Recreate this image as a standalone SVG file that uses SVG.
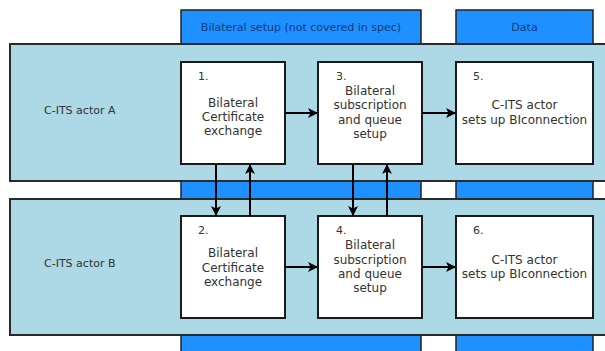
<svg xmlns="http://www.w3.org/2000/svg" width="605" height="351" viewBox="0 0 605 351">
  <style>
    .col { fill: #1e90ff; stroke: #222; stroke-width: 1.5; }
    .lane { fill: #add8e6; stroke: #2a2a2a; stroke-width: 2; }
    .box { fill: #ffffff; stroke: #1a1a1a; stroke-width: 2; }
    .hdr { font-family: "DejaVu Sans", sans-serif; font-size: 11px; fill: #123a78; text-anchor: middle; }
    .t { font-family: "DejaVu Sans", sans-serif; font-size: 12px; fill: #333; text-anchor: middle; }
    .n { font-family: "DejaVu Sans", sans-serif; font-size: 11px; fill: #333; }
    .lbl { font-family: "DejaVu Sans", sans-serif; font-size: 11px; fill: #333; }
    .con { fill: none; stroke: #000; stroke-width: 2; marker-end: url(#arrow); }
  </style>
  <defs>
    <marker id="arrow" viewBox="0 0 10 10" refX="9" refY="5" markerWidth="5" markerHeight="5" orient="auto" markerUnits="strokeWidth">
      <path d="M0,0 L10,5 L0,10 L2.5,5 Z" fill="#000"/>
    </marker>
  </defs>

  <!-- phase columns, drawn behind the swimlanes -->
  <g id="col-setup">
    <rect class="col" x="181" y="10" width="240" height="350"/>
    <text class="hdr" x="301" y="31">Bilateral setup (not covered in spec)</text>
  </g>
  <g id="col-data">
    <rect class="col" x="456" y="10" width="137" height="350"/>
    <text class="hdr" x="524.5" y="31">Data</text>
  </g>

  <!-- swimlanes -->
  <g id="lane-a">
    <rect class="lane" x="10" y="44" width="610" height="137"/>
    <text class="lbl" x="44" y="114">C-ITS actor A</text>
  </g>
  <g id="lane-b">
    <rect class="lane" x="10" y="199" width="610" height="136"/>
    <text class="lbl" x="44" y="267">C-ITS actor B</text>
  </g>

  <!-- steps -->
  <g id="step1">
    <rect class="box" x="181" y="62" width="104" height="102"/>
    <text class="n" x="198" y="80">1.</text>
    <text class="t" x="233" y="107">Bilateral</text>
    <text class="t" x="233" y="121">Certificate</text>
    <text class="t" x="233" y="135">exchange</text>
  </g>
  <g id="step3">
    <rect class="box" x="318" y="62" width="104" height="102"/>
    <text class="n" x="336" y="80">3.</text>
    <text class="t" x="370" y="95">Bilateral</text>
    <text class="t" x="370" y="109">subscription</text>
    <text class="t" x="370" y="124">and queue</text>
    <text class="t" x="370" y="138">setup</text>
  </g>
  <g id="step5">
    <rect class="box" x="456" y="62" width="137" height="102"/>
    <text class="n" x="473" y="80">5.</text>
    <text class="t" x="524.5" y="109">C-ITS actor</text>
    <text class="t" x="524.5" y="124">sets up BIconnection</text>
  </g>
  <g id="step2">
    <rect class="box" x="181" y="216" width="104" height="102"/>
    <text class="n" x="198" y="234">2.</text>
    <text class="t" x="233" y="257">Bilateral</text>
    <text class="t" x="233" y="272">Certificate</text>
    <text class="t" x="233" y="286">exchange</text>
  </g>
  <g id="step4">
    <rect class="box" x="318" y="216" width="104" height="102"/>
    <text class="n" x="336" y="234">4.</text>
    <text class="t" x="370" y="249">Bilateral</text>
    <text class="t" x="370" y="264">subscription</text>
    <text class="t" x="370" y="278">and queue</text>
    <text class="t" x="370" y="292">setup</text>
  </g>
  <g id="step6">
    <rect class="box" x="456" y="216" width="137" height="102"/>
    <text class="n" x="473" y="234">6.</text>
    <text class="t" x="524.5" y="264">C-ITS actor</text>
    <text class="t" x="524.5" y="278">sets up BIconnection</text>
  </g>

  <!-- connectors -->
  <g id="connectors">
    <path class="con" d="M285,113 H317"/>
    <path class="con" d="M422,113 H455"/>
    <path class="con" d="M285,267 H317"/>
    <path class="con" d="M422,267 H455"/>
    <path class="con" d="M216,164 V215"/>
    <path class="con" d="M250,216 V165"/>
    <path class="con" d="M353,164 V215"/>
    <path class="con" d="M387,216 V165"/>
  </g>
</svg>
